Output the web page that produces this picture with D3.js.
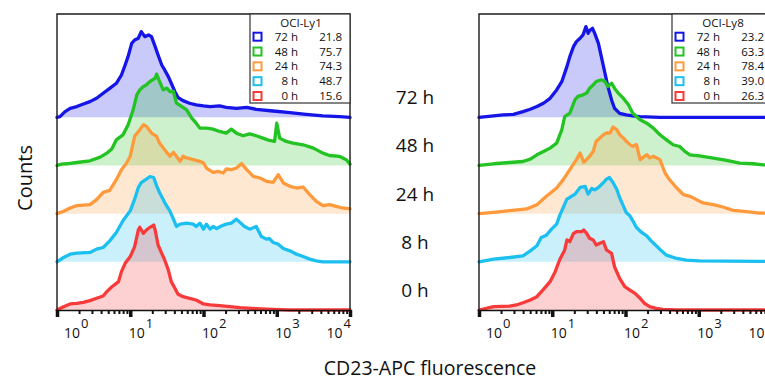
<!DOCTYPE html>
<html><head><meta charset="utf-8">
<script src="https://cdn.jsdelivr.net/npm/d3@7"></script>
<style>
body{margin:0;background:#fff}
svg{display:block;overflow:hidden}
text{font-family:"Open Sans",sans-serif;fill:#111}
</style>
</head><body>
<svg id="chart" width="765" height="383"></svg>
<script>
// ---------- data ----------
const timepoints = ["72 h", "48 h", "24 h", "8 h", "0 h"];
const seriesColors = ["#1515e8", "#22c322", "#ff9a3c", "#1cc0f0", "#f83a3a"];
const decadeExponents = [0, 1, 2, 3, 4];
const ly1Percent = ["21.8", "75.7", "74.3", "48.7", "15.6"];
const ly8Percent = ["23.2", "63.3", "78.4", "39.0", "26.3"];
const xAxisTitle = "CD23-APC fluorescence";
const yAxisTitle = "Counts";

// each point: [log10 fluorescence, % of mode]
const ly1_72h = [[0,0],[0.04,0.7],[0.11,6.3],[0.18,10],[0.27,11.9],[0.36,14.8],[0.45,17.4],[0.54,21.1],[0.63,26.7],[0.72,32.2],[0.81,37.8],[0.88,47],[0.93,58.1],[0.97,67.4],[1.02,82.2],[1.06,85.9],[1.11,87.8],[1.15,95.2],[1.2,89.6],[1.25,91.5],[1.29,89.6],[1.34,78.5],[1.38,69.3],[1.43,58.1],[1.47,52.6],[1.52,45.2],[1.56,37.8],[1.61,28.5],[1.65,22.2],[1.72,18.5],[1.81,15.6],[1.9,13.7],[2,12.6],[2.09,11.9],[2.22,12.6],[2.31,11.1],[2.45,10],[2.59,11.1],[2.72,8.9],[2.95,7],[3.18,5.2],[3.4,3.3],[3.63,1.5],[3.86,0.7],[4,0]];
const ly1_48h = [[0,0],[0.06,1.5],[0.13,1.9],[0.27,3.3],[0.45,5.2],[0.59,9.3],[0.68,13.7],[0.75,18.5],[0.81,28.5],[0.9,34],[0.97,45],[1.04,62],[1.09,78.5],[1.13,84],[1.18,87.8],[1.22,89.6],[1.27,93.3],[1.34,97],[1.36,101.5],[1.4,93.3],[1.45,84],[1.5,86],[1.54,82.2],[1.59,82.2],[1.63,69.3],[1.7,65.6],[1.77,61.9],[1.84,52.6],[1.9,47],[1.95,41.5],[2.04,41.5],[2.13,40.4],[2.22,37.8],[2.31,35.9],[2.38,40.4],[2.45,35.9],[2.54,33],[2.63,35.2],[2.72,33],[2.81,30.4],[2.9,27.8],[2.97,26.7],[3,47],[3.04,30.4],[3.13,26.7],[3.22,24.8],[3.36,23],[3.5,19.3],[3.63,13.7],[3.72,11.1],[3.86,10],[3.95,6.3],[4,1.5]];
const ly1_24h = [[0,0],[0.09,2.6],[0.18,6.3],[0.27,8.9],[0.45,10],[0.54,15.6],[0.63,23.7],[0.72,25.9],[0.81,37.8],[0.88,48.9],[0.95,56.3],[1,63.7],[1.06,85.9],[1.13,93.3],[1.18,98.9],[1.22,97],[1.29,89.6],[1.36,85.9],[1.4,78.5],[1.47,71.1],[1.54,63.7],[1.59,68.1],[1.63,63.7],[1.68,58.1],[1.72,63.7],[1.77,61.9],[1.86,60],[1.95,58.1],[2,56.3],[2.04,50.7],[2.13,45.9],[2.2,47],[2.27,45.2],[2.31,49.6],[2.38,48.9],[2.45,50.7],[2.52,55.6],[2.59,48.9],[2.68,41.5],[2.77,39.6],[2.86,35.9],[2.95,34.8],[3.02,43.3],[3.09,34.1],[3.18,30.4],[3.27,28.5],[3.36,29.6],[3.45,21.1],[3.54,13.7],[3.63,8.9],[3.72,10],[3.81,8.1],[3.9,6.3],[4,5.2]];
const ly1_8h = [[0,0],[0.09,4.8],[0.18,8.5],[0.27,9.6],[0.45,10.4],[0.54,14.1],[0.63,15.9],[0.72,23.3],[0.81,32.6],[0.9,45.6],[1,56.7],[1.06,69.6],[1.11,82.6],[1.15,88.1],[1.22,91.9],[1.27,94.8],[1.32,93.7],[1.36,84.4],[1.4,77],[1.47,65.9],[1.54,56.7],[1.59,47.4],[1.63,39.3],[1.68,41.9],[1.77,43],[1.86,41.9],[1.9,39.3],[1.95,43],[2,36.3],[2.04,41.9],[2.09,36.3],[2.13,39.3],[2.18,37],[2.25,40],[2.31,41.9],[2.38,43],[2.45,47.4],[2.49,44.4],[2.56,39.3],[2.63,36.3],[2.72,39.3],[2.79,28.1],[2.86,25.2],[2.9,25.9],[2.95,21.5],[3.02,19.6],[3.09,14.8],[3.18,12.2],[3.27,8.5],[3.36,5.9],[3.45,3],[3.54,1.1],[3.63,0],[4,0]];
const ly1_0h = [[0,0],[0.09,3.7],[0.18,6.7],[0.27,7.4],[0.36,8.5],[0.45,10.4],[0.54,13],[0.63,15.6],[0.68,20.4],[0.75,25.9],[0.84,31.5],[0.88,42.6],[0.93,51.9],[1,59.3],[1.06,70.4],[1.11,88.9],[1.13,91.9],[1.18,85.2],[1.22,88.9],[1.27,91.9],[1.32,94.4],[1.34,88.9],[1.38,72.2],[1.43,63],[1.47,55.6],[1.52,44.4],[1.56,31.5],[1.61,24.1],[1.65,17.8],[1.72,14.8],[1.81,13],[1.9,11.1],[2,6.7],[2.09,5.6],[2.22,4.8],[2.36,3.7],[2.5,2.6],[2.72,1.5],[2.95,0.7],[3.18,0],[4,0]];

const ly8_72h = [[0,0],[0.1,0.7],[0.2,1.5],[0.33,2.6],[0.47,3.3],[0.6,6.3],[0.7,8.9],[0.79,11.9],[0.88,15.6],[0.97,21.1],[1.06,30.4],[1.13,39.6],[1.2,56.3],[1.24,67.4],[1.29,78.5],[1.33,84.1],[1.38,87.8],[1.42,91.5],[1.46,100.7],[1.49,93.3],[1.51,96.3],[1.55,98.9],[1.58,93.3],[1.63,82.2],[1.67,67.4],[1.72,48.9],[1.76,34.1],[1.81,19.3],[1.85,10],[1.92,4.4],[2.01,2.6],[2.1,1.5],[2.2,0.7],[2.47,0],[4,0]];
const ly8_48h = [[0,0],[0.2,1.9],[0.42,3.3],[0.6,4.4],[0.7,7],[0.79,11.9],[0.88,15.6],[0.97,19.3],[1.06,24.8],[1.13,39.6],[1.17,54.4],[1.24,58.1],[1.31,73],[1.35,76.7],[1.42,78.5],[1.47,80.4],[1.51,85.9],[1.56,89.6],[1.6,93.3],[1.67,95.2],[1.72,93.3],[1.76,87.8],[1.81,91.5],[1.85,85.9],[1.9,80.4],[1.97,74.8],[2.04,67.4],[2.1,58.1],[2.2,50.7],[2.29,47],[2.38,41.5],[2.47,34.1],[2.56,28.5],[2.65,23],[2.74,21.1],[2.81,15.6],[2.88,11.9],[3.01,10.7],[3.2,8.1],[3.38,5.6],[3.56,2.6],[3.74,1.9],[3.88,0.7],[4,0.4]];
const ly8_24h = [[0,0],[0.2,1.5],[0.42,3.3],[0.65,5.2],[0.79,10],[0.92,19.3],[1.06,28.5],[1.15,37.8],[1.24,48.9],[1.33,60],[1.38,67.4],[1.43,57],[1.51,63.7],[1.56,69.3],[1.6,80.4],[1.65,84.1],[1.7,87.8],[1.74,89.6],[1.79,89.6],[1.83,96.3],[1.88,93.3],[1.92,87.8],[1.97,84.1],[2.01,80.4],[2.06,76.7],[2.1,74.8],[2.15,76.7],[2.2,60],[2.29,65.6],[2.33,61.9],[2.38,63.7],[2.47,60],[2.54,45.2],[2.6,37.8],[2.7,28.5],[2.79,21.1],[2.88,19.3],[2.97,15.6],[3.06,11.9],[3.2,10],[3.33,7.4],[3.47,3.7],[3.65,2.2],[3.83,0.7],[4,0.4]];
const ly8_8h = [[0,0],[0.2,3],[0.42,4.8],[0.6,6.7],[0.7,12.2],[0.79,17.8],[0.85,27],[0.92,29.6],[0.99,36.3],[1.06,41.9],[1.1,51.1],[1.15,60.4],[1.2,69.6],[1.24,71.5],[1.31,75.2],[1.38,82.6],[1.45,83.7],[1.49,75.2],[1.54,81.5],[1.58,80],[1.63,82.6],[1.7,88.1],[1.74,91.9],[1.78,93.7],[1.83,88.1],[1.88,80.7],[1.92,71.5],[1.97,62.2],[2.01,54.8],[2.06,51.1],[2.1,45.6],[2.15,38.1],[2.22,32.6],[2.29,28.9],[2.35,23.3],[2.42,17.8],[2.49,12.2],[2.56,7.4],[2.7,3.7],[2.83,1.9],[3.01,1.1],[3.38,0.7],[3.83,0.4],[4,0.4]];
const ly8_0h = [[0,0],[0.2,3.7],[0.42,4.4],[0.51,5.6],[0.6,8.1],[0.7,11.1],[0.79,14.8],[0.88,23],[0.97,31.5],[1.04,42.6],[1.1,55.6],[1.17,66.7],[1.2,77.8],[1.24,75.9],[1.29,85.2],[1.33,87],[1.4,87],[1.43,88.9],[1.47,85.2],[1.51,79.6],[1.56,77.8],[1.6,72.2],[1.65,74.1],[1.7,75.9],[1.74,66.7],[1.81,63],[1.85,48.1],[1.92,35.2],[1.99,25.9],[2.06,22.2],[2.13,18.5],[2.2,13],[2.26,7.4],[2.33,3.7],[2.42,1.9],[2.51,0.7],[2.7,0],[4,0]];

// ---------- layout ----------
const svg = d3.select("#chart");
const panels = [
  { name: "OCI-Ly1", left: 57, series: [ly1_72h, ly1_48h, ly1_24h, ly1_8h, ly1_0h], pct: ly1Percent },
  { name: "OCI-Ly8", left: 479, series: [ly8_72h, ly8_48h, ly8_24h, ly8_8h, ly8_0h], pct: ly8Percent }
];
const panelW = 293, frameTop = 14, axisY = 310;
const baseline = d3.scalePoint().domain(timepoints).range([117.3, axisY]);
const ampl = 90; // px for 100 %

panels.forEach(p => {
  const g = svg.append("g");
  const x = d3.scaleLog().domain([1, 1e4]).range([p.left, p.left + panelW]);

  // fills (top series first, lower series drawn over)
  p.series.forEach((s, i) => {
    const b = baseline(timepoints[i]);
    const y = d3.scaleLinear().domain([0, 100]).range([b, b - ampl]);
    const area = d3.area().x(d => x(Math.pow(10, d[0]))).y0(b).y1(d => y(d[1]));
    g.append("path").attr("d", area(s)).attr("fill", seriesColors[i]).attr("fill-opacity", 0.23);
  });
  // lines
  p.series.forEach((s, i) => {
    const b = baseline(timepoints[i]);
    const y = d3.scaleLinear().domain([0, 100]).range([b, b - ampl]);
    const line = d3.line().x(d => x(Math.pow(10, d[0]))).y(d => y(d[1]));
    g.append("path").attr("d", line(s)).attr("fill", "none")
      .attr("stroke", seriesColors[i]).attr("stroke-width", 3.3)
      .attr("stroke-linejoin", "round").attr("stroke-linecap", "round");
  });

  // frame
  const R = p.left + panelW;
  g.append("path").attr("d", `M${p.left},${axisY}V${frameTop}H${R}` + (p.name === "OCI-Ly1" ? `V${axisY}` : ""))
    .attr("fill", "none").attr("stroke", "#1a1a1a").attr("stroke-width", 1.4);

  // axis
  const minor = [];
  decadeExponents.slice(0, -1).forEach(e => { for (let m = 2; m <= 9; m++) minor.push(m * Math.pow(10, e)); });
  const major = decadeExponents.map(e => Math.pow(10, e));
  const axMinor = g.append("g").attr("transform", `translate(0,${axisY})`)
    .call(d3.axisBottom(x).tickValues(minor).tickSize(4).tickSizeOuter(0).tickFormat(""));
  axMinor.selectAll("line").attr("stroke", "#111").attr("stroke-width", 2);
  axMinor.select(".domain").attr("stroke", "#111").attr("stroke-width", 1.6);
  const axMajor = g.append("g").attr("transform", `translate(0,${axisY})`)
    .call(d3.axisBottom(x).tickValues(major).tickSize(7).tickSizeOuter(0).tickFormat(""));
  axMajor.select(".domain").remove();
  axMajor.selectAll("line").attr("stroke", "#111").attr("stroke-width", 3.5);

  // tick labels 10^k
  decadeExponents.forEach((e, k) => {
    const tx = x(Math.pow(10, e));
    const last = k === decadeExponents.length - 1;
    const t = g.append("text").attr("y", 338).attr("font-size", 14)
      .attr("x", k === 0 ? tx + 7 : last ? tx + 1 : tx - 1.5)
      .attr("text-anchor", last ? "end" : "start");
    t.append("tspan").text("10");
    t.append("tspan").attr("dy", -10).attr("dx", 1).attr("font-size", 13).text(e);
  });

  // legend
  const lx = R - 100;
  const lg = g.append("g");
  lg.append("rect").attr("x", lx).attr("y", frameTop).attr("width", 100).attr("height", 89)
    .attr("fill", "#fff").attr("stroke", "#333").attr("stroke-width", 1.2);
  lg.append("text").attr("x", lx + 51).attr("y", 27).attr("text-anchor", "middle")
    .attr("font-size", 11.5).text(p.name);
  const rowY = d3.scalePoint().domain(timepoints).range([36.7, 96]);
  timepoints.forEach((tp, i) => {
    const cy = rowY(tp);
    lg.append("rect").attr("x", lx + 3.5).attr("y", cy - 4).attr("width", 8).attr("height", 8)
      .attr("fill", "#fff").attr("stroke", seriesColors[i]).attr("stroke-width", 2);
    lg.append("text").attr("x", lx + 48).attr("y", cy + 4).attr("text-anchor", "end")
      .attr("font-size", 11.5).text(tp);
    lg.append("text").attr("x", lx + 92).attr("y", cy + 4).attr("text-anchor", "end")
      .attr("font-size", 11.5).text(p.pct[i]);
  });
});

// center time labels
timepoints.forEach(tp => {
  svg.append("text").attr("x", 415).attr("y", baseline(tp) - 13).attr("text-anchor", "middle")
    .attr("font-size", 19).text(tp);
});

// axis titles
svg.append("text").attr("x", 430).attr("y", 375).attr("text-anchor", "middle")
  .attr("font-size", 19.5).text(xAxisTitle);
svg.append("text").attr("transform", "translate(32,178) rotate(-90)").attr("text-anchor", "middle")
  .attr("font-size", 20).text(yAxisTitle);
</script>
</body></html>
